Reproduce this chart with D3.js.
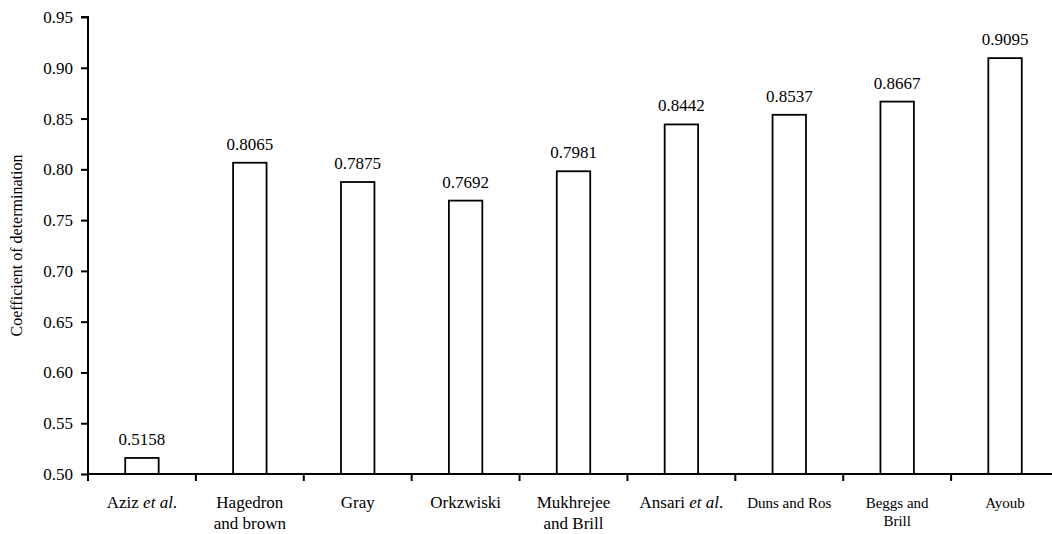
<!DOCTYPE html>
<html>
<head>
<meta charset="utf-8">
<script src="https://cdn.jsdelivr.net/npm/d3@7"></script>
</head>
<body style="margin:0;background:#fff">
<svg id="chart" width="1052" height="534" style="display:block" font-family="Liberation Serif"></svg>
<script>
// Data
const categories = ["Aziz et al.", "Hagedron and brown", "Gray", "Orkzwiski", "Mukhrejee and Brill",
                    "Ansari et al.", "Duns and Ros", "Beggs and Brill", "Ayoub"];
// category label lines: [text, italic?] segments per line
const categoryLines = [
  [[["Aziz ", false], ["et al", true], [".", false]]],
  [[["Hagedron", false]], [["and brown", false]]],
  [[["Gray", false]]],
  [[["Orkzwiski", false]]],
  [[["Mukhrejee", false]], [["and Brill", false]]],
  [[["Ansari ", false], ["et al", true], [".", false]]],
  [[["Duns and Ros", false]]],
  [[["Beggs and", false]], [["Brill", false]]],
  [[["Ayoub", false]]]
];
const smallLabel = [false, false, false, false, false, false, true, true, true];
const values = [0.5158, 0.8065, 0.7875, 0.7692, 0.7981, 0.8442, 0.8537, 0.8667, 0.9095];
const yTicks = [0.50, 0.55, 0.60, 0.65, 0.70, 0.75, 0.80, 0.85, 0.90, 0.95];
const yTitle = "Coefficient of determination";

(function () {
const FONT = "Liberation Serif";
const svg = d3.select("#chart");
const mLeft = 88, mRight = 1059, mTop = 17, mBottom = 474;

const y = d3.scaleLinear().domain([0.50, 0.95]).range([mBottom, mTop]);
const pad = 0.69;
const x = d3.scaleBand().domain(categories).range([mLeft, mRight]).paddingInner(pad).paddingOuter(pad / 2);

// Y axis
const yAxis = d3.axisLeft(y).tickValues(yTicks).tickFormat(d3.format(".2f")).tickSize(7).tickPadding(8);
const gy = svg.append("g").attr("transform", `translate(${mLeft},0)`).call(yAxis)
  .attr("font-family", FONT).attr("font-size", 17);
gy.select(".domain").attr("stroke", "#000").attr("stroke-width", 2).attr("d", `M-7,${mTop}H0V${mBottom}`);
gy.selectAll(".tick line").attr("stroke", "#000").attr("stroke-width", 2);
gy.selectAll(".tick text").attr("fill", "#000").attr("font-family", FONT).style("font-family", FONT);

// Y title
svg.append("text")
  .attr("transform", `translate(22,${(mTop + mBottom) / 2}) rotate(-90)`)
  .attr("text-anchor", "middle")
  .attr("font-family", FONT).style("font-family", FONT)
  .attr("font-size", 16)
  .attr("fill", "#000")
  .text(yTitle);

// Bars
svg.append("g").selectAll("rect").data(values).join("rect")
  .attr("x", (d, i) => x(categories[i]))
  .attr("width", x.bandwidth())
  .attr("y", d => y(d))
  .attr("height", d => y(0.5) - y(d))
  .attr("fill", "#fff")
  .attr("stroke", "#000")
  .attr("stroke-width", 1.8);

// Value labels
svg.append("g").selectAll("text").data(values).join("text")
  .attr("x", (d, i) => x(categories[i]) + x.bandwidth() / 2)
  .attr("y", d => y(d) - 13)
  .attr("text-anchor", "middle")
  .attr("font-family", FONT).style("font-family", FONT)
  .attr("font-size", 17)
  .attr("fill", "#000")
  .text(d => d3.format(".4f")(d));

// X axis line
svg.append("line")
  .attr("x1", mLeft).attr("x2", 1052).attr("y1", mBottom).attr("y2", mBottom)
  .attr("stroke", "#000").attr("stroke-width", 2);

// X ticks at band boundaries
const step = x.step();
const boundaries = d3.range(categories.length).map(i => mLeft + i * step);
svg.append("g").selectAll("line").data(boundaries).join("line")
  .attr("x1", d => d).attr("x2", d => d)
  .attr("y1", mBottom).attr("y2", mBottom + 7)
  .attr("stroke", "#000").attr("stroke-width", 2);

// Category labels
const cg = svg.append("g").attr("font-family", FONT);
categories.forEach((c, i) => {
  const cx = x(c) + x.bandwidth() / 2;
  const small = smallLabel[i];
  const fs = small ? 15 : 17;
  const lh = small ? 18 : 21;
  categoryLines[i].forEach((line, li) => {
    const t = cg.append("text")
      .attr("x", cx)
      .attr("y", 508 + li * lh)
      .attr("text-anchor", "middle")
      .attr("font-family", FONT).style("font-family", FONT)
      .attr("font-size", fs)
      .attr("fill", "#000");
    line.forEach(([s, it]) => {
      t.append("tspan")
        .style("font-family", FONT)
        .style("font-style", it ? "italic" : "normal")
        .text(s);
    });
  });
});
})();
</script>
</body>
</html>
